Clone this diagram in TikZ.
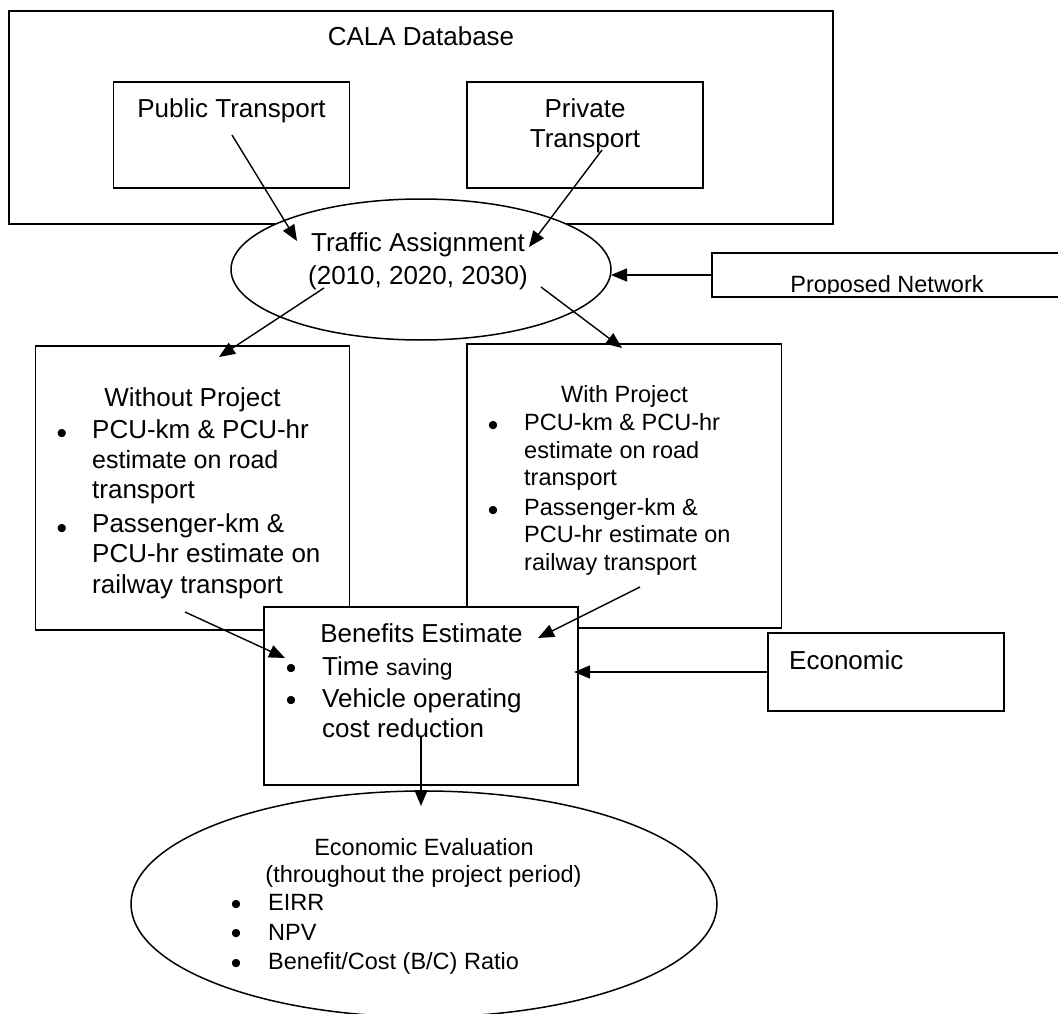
\documentclass[tikz,border=0pt]{standalone}
\usepackage{fontspec}
\setmainfont{Liberation Sans}
\usetikzlibrary{arrows.meta,shapes.geometric}
\newcommand\fsA{\fontsize{26}{30}\selectfont}
\newcommand\fsB{\fontsize{23.5}{28}\selectfont}
\newcommand\fsC{\fontsize{25}{30}\selectfont}
\newcommand\fsBul{\fontsize{30}{30}\selectfont}
\begin{document}
\begin{tikzpicture}[x=1pt,y=-1pt,
  boxnode/.style={draw, line width=1.8pt, fill=white, inner sep=0pt, rectangle},
  ellnode/.style={draw, line width=1.5pt, fill=white, inner sep=0pt, ellipse},
  txt/.style={inner sep=0pt, anchor=base, font=\fsA},
  txtl/.style={inner sep=0pt, anchor=base west, font=\fsA},
  bul/.style={inner sep=0pt, anchor=base, font=\fsBul, text height=10pt, text depth=0pt},
  arr/.style={line width=1.4pt, -{Triangle[length=16pt,width=13pt]}}]
\useasboundingbox (0,0) rectangle (1058,1014);
\clip (0,0) rectangle (1058,1014);
\fill[white] (0,0) rectangle (1058,1014);

% CALA database
\node[boxnode, minimum width=824pt, minimum height=213pt] (cala) at (421,117.5) {};
\node[txt] (calat) at (421,46) {CALA Database};
\node[boxnode, minimum width=236pt, minimum height=106pt] (pub) at (231.5,135) {};
\node[txt] (pubt) at (231.5,117.5) {Public Transport};
\node[boxnode, minimum width=236pt, minimum height=106pt] (pri) at (585,135) {};
\node[txt] (prit1) at (585,117.5) {Private};
\node[txt] (prit2) at (585,147.5) {Transport};

% Traffic assignment
\node[ellnode, minimum width=380pt, minimum height=141pt] (ta) at (421,269.5) {};
\node[txt] (tat1) at (418,251.5) {Traffic Assignment};
\node[txt] (tat2) at (418,284.5) {(2010, 2020, 2030)};

% Proposed network
\node[boxnode, minimum width=358pt, minimum height=44pt] (prop) at (891,275) {};
\begin{scope}
\clip (700,250) rectangle (1058,293.6);
\node[txt, font=\fsB] (propt) at (887,292.5) {Proposed Network};
\end{scope}

% Without project
\node[boxnode, minimum width=314pt, minimum height=284pt] (wo) at (192.5,488) {};
\node[txt] (wot) at (192.5,406) {Without Project};
\node[bul] (wob1) at (62,443) {•};
\node[txtl] (wo1) at (92,438) {PCU-km \& PCU-hr};
\node[txtl, font=\fsC] (wo2) at (92,468) {estimate on road};
\node[txtl] (wo3) at (92,498) {transport};
\node[bul] (wob2) at (62,538) {•};
\node[txtl] (wo4) at (92,532) {Passenger-km \&};
\node[txtl] (wo5) at (92,562) {PCU-hr estimate on};
\node[txtl] (wo6) at (92,593) {railway transport};

% With project
\node[boxnode, minimum width=314.5pt, minimum height=284pt] (wi) at (624.25,486) {};
\node[txt, font=\fsB] (wit) at (624.5,402) {With Project};
\node[bul] (wib1) at (493,435) {•};
\node[txtl, font=\fsB] (wi1) at (524,430) {PCU-km \& PCU-hr};
\node[txtl, font=\fsB] (wi2) at (524,458) {estimate on road};
\node[txtl, font=\fsB] (wi3) at (524,485) {transport};
\node[bul] (wib2) at (493,520) {•};
\node[txtl, font=\fsB] (wi4) at (524,515) {Passenger-km \&};
\node[txtl, font=\fsB] (wi5) at (524,542) {PCU-hr estimate on};
\node[txtl, font=\fsB] (wi6) at (524,570) {railway transport};

% Benefits estimate
\node[boxnode, minimum width=314pt, minimum height=178pt] (ben) at (421,696) {};
\node[txt] (bent) at (421.5,642) {Benefits Estimate};
\node[bul] (benb1) at (291,678) {•};
\node[txtl] (ben1) at (322,675) {Time {\fontsize{23}{28}\selectfont saving}};
\node[bul] (benb2) at (291,710) {•};
\node[txtl] (ben2) at (322,707) {Vehicle operating};
\node[txtl] (ben3) at (322,737) {cost reduction};

% Economic
\node[boxnode, minimum width=236pt, minimum height=78pt] (eco) at (886,672) {};
\node[txtl] (ecot) at (789,669) {Economic};

% Economic evaluation
\node[ellnode, minimum width=586pt, minimum height=226pt] (ee) at (424,904) {};
\node[txt, font=\fsB] (eet1) at (424,855) {Economic Evaluation};
\node[txt, font=\fsB] (eet2) at (423.5,882) {(throughout the project period)};
\node[bul] (eeb1) at (236,914) {•};
\node[txtl, font=\fsB] (ee1) at (268,910) {EIRR};
\node[bul] (eeb2) at (236,943) {•};
\node[txtl, font=\fsB] (ee2) at (268,940) {NPV};
\node[bul] (eeb3) at (236,973) {•};
\node[txtl, font=\fsB] (ee3) at (268,969) {Benefit/Cost (B/C) Ratio};

% connector end points
\coordinate (a1s) at (232,135);  \coordinate (a1e) at (297,241);
\coordinate (a2s) at (602,150);  \coordinate (a2e) at (529,247);
\coordinate (a3e) at (611,275);
\coordinate (a4s) at (324,288);  \coordinate (a4e) at (219,357);
\coordinate (a5s) at (541,287);  \coordinate (a5e) at (622,348);
\coordinate (a6s) at (185,612);  \coordinate (a6e) at (285,658);
\coordinate (a7s) at (640,587);  \coordinate (a7e) at (538,638);
\coordinate (a8e) at (574,672);
\coordinate (a9s) at (421,737);  \coordinate (a9e) at (421,806);

\draw[arr] (a1s) -- (a1e);
\draw[arr] (a2s) -- (a2e);
\draw[arr] (prop.west) -- (a3e);
\draw[arr] (a4s) -- (a4e);
\draw[arr] (a5s) -- (a5e);
\draw[arr] (a6s) -- (a6e);
\draw[arr] (a7s) -- (a7e);
\draw[arr] (eco.west) -- (a8e);
\draw[arr] (a9s) -- (a9e);
\end{tikzpicture}
\end{document}
